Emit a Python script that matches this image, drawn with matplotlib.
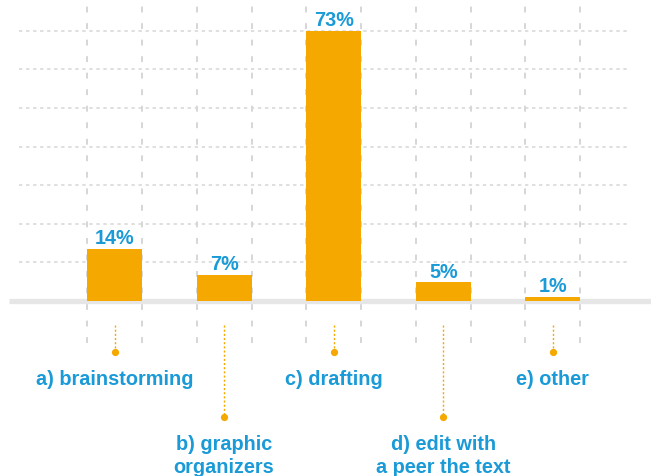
import matplotlib
matplotlib.use("Agg")
import matplotlib.pyplot as plt
import numpy as np

categories = ["a) brainstorming", "b) graphic\norganizers", "c) drafting",
              "d) edit with\na peer the text", "e) other"]
values = [14, 7, 73, 5, 1]
value_labels = ["14%", "7%", "73%", "5%", "1%"]
label_row = [0, 1, 0, 1, 0]  # 0 = upper row, 1 = lower row

ORANGE = "#F5A800"
BLUE = "#1A9AD7"
GRID = "#D6D6D6"
BASE = "#E6E6E6"

plt.rcParams['font.family'] = ['Liberation Sans', 'DejaVu Sans']

fig = plt.figure(figsize=(6.51, 4.77), dpi=100)
ax = fig.add_axes([0, 0, 1, 1])
ax.set_xlim(-1.0447, 4.895)
ax.set_ylim(-47.26, 81.56)
ax.axis('off')

x = np.arange(len(categories))
width = 0.502

# horizontal dotted gridlines
step = max(values) / 7
for k in range(1, 8):
    ax.plot([-0.871, 4.673], [k * step, k * step], color=GRID, lw=1.1,
            linestyle=(0, (2.2, 2.4)), zorder=1)

# vertical dashed gridlines at bar edges
for xi in x:
    for edge in (xi - width / 2, xi + width / 2):
        ax.plot([edge, edge], [-11.34, 79.66], color=GRID, lw=1.4,
                linestyle=(0, (3.0, 5.5)), zorder=1)

# baseline band
ax.plot([-0.962, 4.895], [-0.1, -0.1], color=BASE, lw=3.8,
        solid_capstyle='butt', zorder=2)

# bars
ax.bar(x, values, width=width, color=ORANGE, zorder=3, linewidth=0)

# value labels
for xi, v, t in zip(x, values, value_labels):
    ax.text(xi, v + 0.5, t, ha='center', va='bottom', color=BLUE,
            fontsize=14.3, fontweight='bold', zorder=4)

# connectors, dots and category labels
dot_y = [-13.7, -31.3]
label_y = [-21.06, -41.6]
for xi, cat, row in zip(x, categories, label_row):
    ax.plot([xi, xi], [-6.48, dot_y[row]], color=ORANGE, lw=1.0,
            linestyle=(0, (1.5, 1.5)), zorder=3)
    ax.plot([xi], [dot_y[row]], 'o', color=ORANGE, markersize=5.2,
            markeredgewidth=0, zorder=4)
    ax.text(xi, label_y[row], cat, ha='center', va='center', color=BLUE,
            fontsize=14.3, fontweight='bold', linespacing=1.25, zorder=4)

fig.savefig("out.png", dpi=100)
